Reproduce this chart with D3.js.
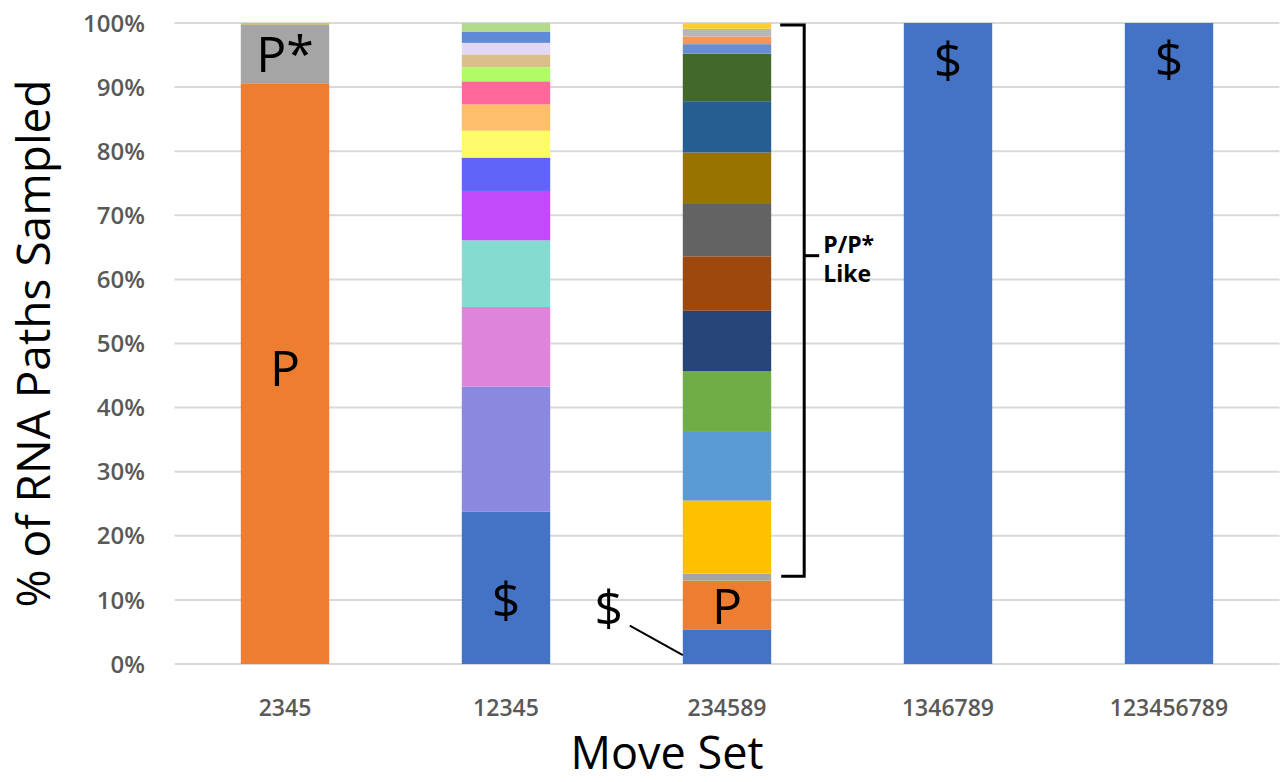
<!DOCTYPE html>
<html><head><meta charset="utf-8">
<script src="https://cdn.jsdelivr.net/npm/d3@7"></script>
<style>body{margin:0;background:#fff;}svg{display:block;}</style>
</head><body>
<svg id="chart" width="1286" height="782"></svg>
<script>
const categories = ["2345", "12345", "234589", "1346789", "123456789"];
const yTicks = [0, 10, 20, 30, 40, 50, 60, 70, 80, 90, 100];
// segment values (percent) per category, bottom to top
const bar2345 = [90.5, 9.3, 0.2];
const colors2345 = ["#ed7d31", "#a5a5a5", "#ffc000"];
const bar12345 = [23.8, 19.5, 12.4, 10.4, 7.7, 5.2, 4.2, 4.1, 3.6, 2.2, 2.0, 1.8, 1.7, 1.4];
const colors12345 = ["#4472c4", "#8b88e0", "#de85da", "#86dbd0", "#c34af9", "#6064f8", "#fdfb6a", "#ffbe6a", "#ff6899", "#b0fb66", "#d9c08a", "#e2d7f5", "#5f8bd6", "#b2db8d"];
const bar234589 = [5.4, 7.6, 1.1, 11.4, 10.7, 9.5, 9.4, 8.5, 8.3, 7.9, 8.0, 7.4, 1.5, 1.2, 1.2, 0.9];
const colors234589 = ["#4472c4", "#ed7d31", "#a5a5a5", "#ffc000", "#5b9bd5", "#70ad47", "#264478", "#9e480e", "#636363", "#997300", "#255e91", "#43682b", "#698ed0", "#f1975a", "#b7b7b7", "#ffcd33"];
const bar1346789 = [100];
const bar123456789 = [100];
const colorsFull = ["#4472c4"];
const barLabels = [
  {cat: "2345", y: 95.2, text: "P*"},
  {cat: "2345", y: 46.2, text: "P"},
  {cat: "12345", y: 10, text: "$"},
  {cat: "234589", y: 9.1, text: "P"},
  {cat: "1346789", y: 94.2, text: "$"},
  {cat: "123456789", y: 94.4, text: "$"}
];

const stacks = [
  {cat: "2345", vals: bar2345, cols: colors2345},
  {cat: "12345", vals: bar12345, cols: colors12345},
  {cat: "234589", vals: bar234589, cols: colors234589},
  {cat: "1346789", vals: bar1346789, cols: colorsFull},
  {cat: "123456789", vals: bar123456789, cols: colorsFull}
];

const svg = d3.select("#chart");
const pLeft = 174.5, pRight = 1279.5, pTop = 23, pBottom = 664;
const x = d3.scaleBand().domain(categories).range([pLeft, pRight]).paddingInner(0.6).paddingOuter(0.3);
const y = d3.scaleLinear().domain([0, 100]).range([pBottom, pTop]);

// grid
svg.append("g").selectAll("line").data(yTicks).join("line")
  .attr("x1", pLeft).attr("x2", pRight)
  .attr("y1", d => y(d)).attr("y2", d => y(d))
  .attr("stroke", "#d9d9d9").attr("stroke-width", 2);

// y tick labels
svg.append("g").selectAll("text").data(yTicks).join("text")
  .attr("x", 145).attr("y", d => y(d)).attr("dy", "0.36em")
  .attr("text-anchor", "end")
  .attr("font-family", "Open Sans, sans-serif").attr("font-weight", 600)
  .attr("font-size", 24).attr("fill", "#595959")
  .text(d => d + "%");

// x tick labels
svg.append("g").selectAll("text").data(categories).join("text")
  .attr("x", d => x(d) + x.bandwidth() / 2).attr("y", 708).attr("dy", "0.36em")
  .attr("text-anchor", "middle")
  .attr("font-family", "Open Sans, sans-serif").attr("font-weight", 600)
  .attr("font-size", 23).attr("fill", "#595959")
  .text(d => d);

// bars
stacks.forEach(s => {
  let acc = 0;
  const segs = s.vals.map((v, i) => { const o = {y0: acc, y1: acc + v, c: s.cols[i]}; acc += v; return o; });
  svg.append("g").selectAll("rect").data(segs).join("rect")
    .attr("x", x(s.cat)).attr("width", x.bandwidth())
    .attr("y", d => y(d.y1)).attr("height", d => y(d.y0) - y(d.y1))
    .attr("fill", d => d.c);
});

// bar labels
svg.append("g").selectAll("text").data(barLabels).join("text")
  .attr("x", d => x(d.cat) + x.bandwidth() / 2).attr("y", d => y(d.y)).attr("dy", "0.36em")
  .attr("text-anchor", "middle")
  .attr("font-family", "Open Sans, sans-serif").attr("font-size", 50).attr("fill", "#000")
  .text(d => d.text);

// $ callout for 234589
const bx = x("234589");
svg.append("text").attr("x", bx - 74).attr("y", y(8.8)).attr("dy", "0.36em")
  .attr("text-anchor", "middle").attr("font-family", "Open Sans, sans-serif")
  .attr("font-size", 50).text("$");
svg.append("line").attr("x1", bx - 53).attr("y1", y(6)).attr("x2", bx).attr("y2", y(1.4))
  .attr("stroke", "#000").attr("stroke-width", 2);

// bracket
const brX = bx + x.bandwidth() + 33;
const brTop = y(99.7), brBot = y(13.7), brMid = y(63.7);
svg.append("path")
  .attr("d", `M${brX - 24},${brTop} H${brX} V${brBot} H${brX - 23}`)
  .attr("fill", "none").attr("stroke", "#000").attr("stroke-width", 3);
svg.append("line").attr("x1", brX).attr("x2", brX + 15).attr("y1", brMid).attr("y2", brMid)
  .attr("stroke", "#000").attr("stroke-width", 3);
svg.append("text").attr("x", brX + 19).attr("y", brMid - 3)
  .attr("font-family", "Open Sans, sans-serif").attr("font-weight", 700)
  .attr("font-size", 23).attr("fill", "#000").text("P/P*");
svg.append("text").attr("x", brX + 19).attr("y", brMid + 26)
  .attr("font-family", "Open Sans, sans-serif").attr("font-weight", 700)
  .attr("font-size", 23).attr("fill", "#000").text("Like");

// axis titles
svg.append("text").attr("x", 667).attr("y", 769)
  .attr("text-anchor", "middle").attr("font-family", "Open Sans, sans-serif")
  .attr("font-size", 45).attr("fill", "#000").text("Move Set");
svg.append("text").attr("transform", `translate(33,${(pTop + pBottom) / 2}) rotate(-90)`)
  .attr("dy", "0.36em").attr("text-anchor", "middle").attr("font-family", "Open Sans, sans-serif")
  .attr("font-size", 46).attr("fill", "#000").text("% of RNA Paths Sampled");
</script>
</body></html>
